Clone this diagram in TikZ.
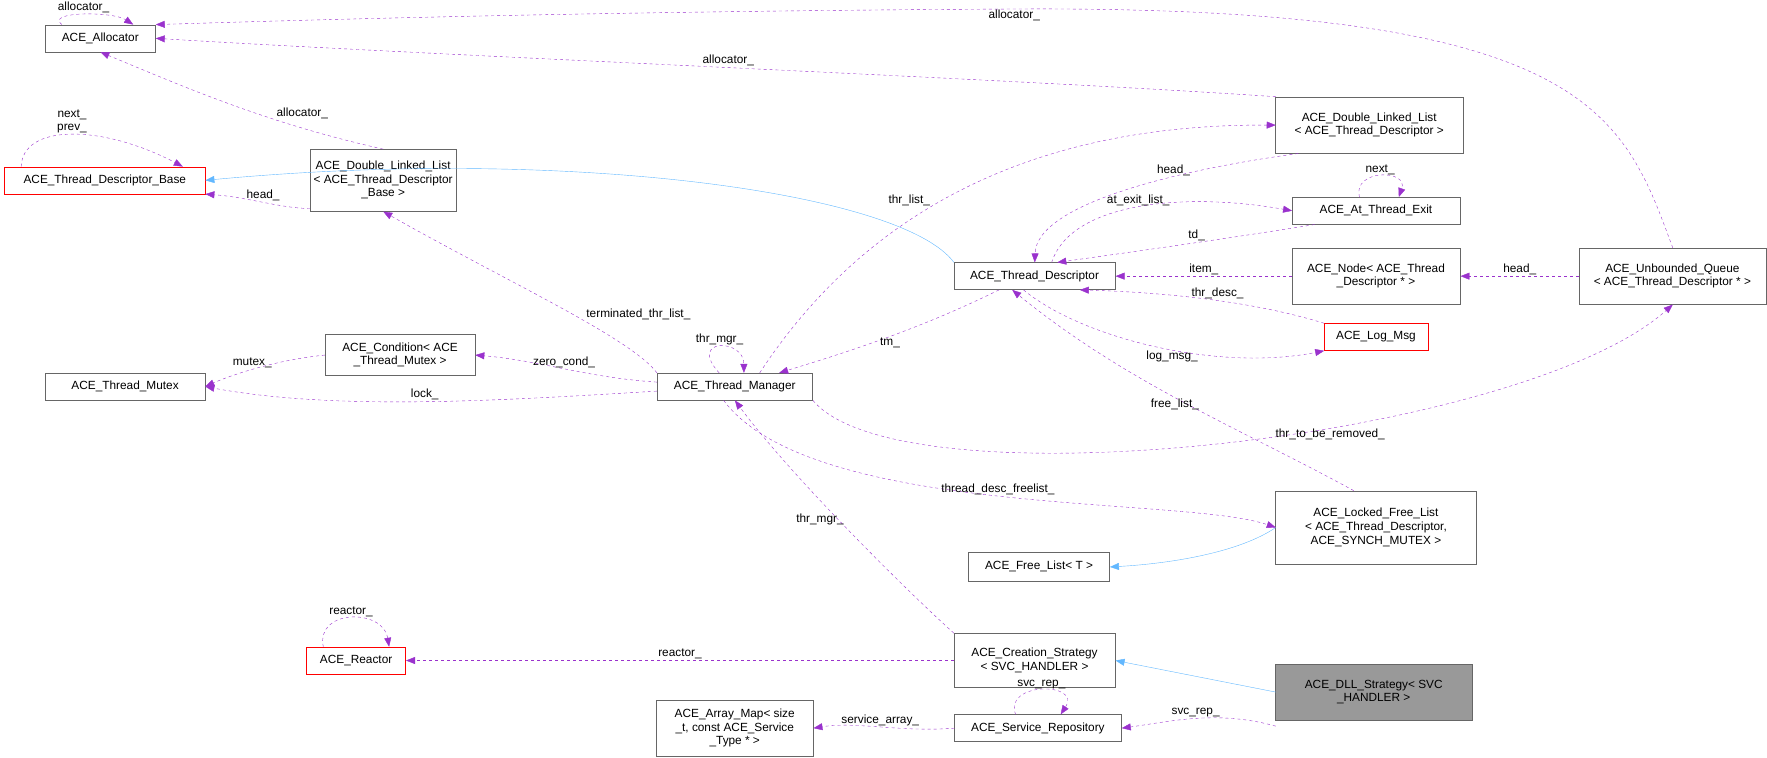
\documentclass[tikz,border=0pt]{standalone}
\usepackage{fontspec}
\setmainfont{Liberation Sans}
\usetikzlibrary{arrows.meta}
\definecolor{edgep}{HTML}{9A32CD}
\definecolor{edgeb}{HTML}{63B8FF}
\begin{document}
\begin{tikzpicture}[x=1pt,y=-1pt,scale=1.127,transform shape,
  cls/.style={draw=black!60, fill=white, font=\fontsize{10.5}{12}\selectfont, align=center, inner sep=3pt},
  redcls/.style={cls, draw=red},
  use/.style={draw=edgep, dashed, -{Triangle[length=9pt,width=7pt]}},
  inh/.style={draw=edgeb, -{Triangle[length=9pt,width=7pt]}},
  lbl/.style={font=\fontsize{10.5}{12}\selectfont, inner sep=1pt}]
\useasboundingbox (0,0) rectangle (1568,672);
\node[cls, minimum width=98pt, minimum height=24pt] (alloc) at (89,34){ACE\_Allocator};
\node[redcls, minimum width=178pt, minimum height=24pt] (tdbase) at (93,160){ACE\_Thread\_Descriptor\_Base};
\node[cls, minimum width=125pt, minimum height=55pt] (dlltdb) at (340,160){ACE\_Double\_Linked\_List\\\textless{} ACE\_Thread\_Descriptor\\\_Base \textgreater};
\node[cls, minimum width=142pt, minimum height=24pt] (mutex) at (111,343){ACE\_Thread\_Mutex};
\node[cls, minimum width=133pt, minimum height=36pt] (cond) at (355,315){ACE\_Condition\textless{} ACE\\\_Thread\_Mutex \textgreater};
\node[cls, minimum width=138pt, minimum height=24pt] (tm) at (652,343){ACE\_Thread\_Manager};
\node[cls, minimum width=143pt, minimum height=24pt] (td) at (918,245){ACE\_Thread\_Descriptor};
\node[cls, minimum width=166pt, minimum height=50pt] (dlltd) at (1215,111){ACE\_Double\_Linked\_List\\\textless{} ACE\_Thread\_Descriptor \textgreater};
\node[cls, minimum width=149pt, minimum height=24pt] (atexit) at (1221,187){ACE\_At\_Thread\_Exit};
\node[cls, minimum width=149pt, minimum height=50pt] (tdnode) at (1221,245){ACE\_Node\textless{} ACE\_Thread\\\_Descriptor * \textgreater};
\node[cls, minimum width=166pt, minimum height=50pt] (queue) at (1484,245){ACE\_Unbounded\_Queue\\\textless{} ACE\_Thread\_Descriptor * \textgreater};
\node[redcls, minimum width=92pt, minimum height=24pt] (logmsg) at (1221,299){ACE\_Log\_Msg};
\node[cls, minimum width=178pt, minimum height=65pt] (lfl) at (1221,468){ACE\_Locked\_Free\_List\\\textless{} ACE\_Thread\_Descriptor,\\ ACE\_SYNCH\_MUTEX \textgreater};
\node[cls, minimum width=125pt, minimum height=26pt] (fl) at (922,503){ACE\_Free\_List\textless{} T \textgreater};
\node[redcls, minimum width=88pt, minimum height=24pt] (reactor) at (316,586){ACE\_Reactor};
\node[cls, minimum width=143pt, minimum height=48pt] (cs) at (918,586){ACE\_Creation\_Strategy\\\textless{} SVC\_HANDLER \textgreater};
\node[cls, fill=black!40, minimum width=174pt, minimum height=50pt] (dlls) at (1219,614){ACE\_DLL\_Strategy\textless{} SVC\\\_HANDLER \textgreater};
\node[cls, minimum width=148pt, minimum height=24pt] (repo) at (921,646){ACE\_Service\_Repository};
\node[cls, minimum width=139pt, minimum height=50pt] (amap) at (652,646){ACE\_Array\_Map\textless{} size\\\_t, const ACE\_Service\\\_Type * \textgreater};
% inheritance
\draw[inh] (td.north west) .. controls (800,170) and (500,130) .. (tdbase.east);
\draw[inh] (lfl.west) .. controls (1100,490) and (1040,500) .. (fl.east);
\draw[inh] (dlls.west) -- (cs.east);
% usage
\draw[use] (alloc.north west) ++(15,0) .. controls (40,10) and (100,10) .. node[lbl, above]{allocator\_} ([xshift=-20pt]alloc.north east);
\draw[use] (dlltdb.north) .. controls (240,110) and (170,80) .. node[lbl, pos=0.35, above right]{allocator\_} (alloc.south);
\draw[use] (dlltd.north west) .. controls (900,70) and (400,50) .. node[lbl, above]{allocator\_} (alloc.east);
\draw[use] (queue.north) .. controls (1440,100) and (1410,5) .. (900,8) .. controls (500,10) and (200,20) .. node[lbl, pos=0, below]{allocator\_} (alloc.north east);
\draw[use] (tdbase.north west) ++(15,0) .. controls (20,110) and (90,110) .. node[lbl, above, align=center]{next\_\\prev\_} ([xshift=-20pt]tdbase.north east);
\draw[use] (dlltdb.west) ++(0,25) .. controls (250,185) and (220,175) .. node[lbl, above]{head\_} (tdbase.south east);
\draw[use] (tm.north west) .. controls (560,300) and (450,250) .. node[lbl, above right, pos=0.4]{terminated\_thr\_list\_} (dlltdb.south);
\draw[use] (cond.west) .. controls (240,320) and (200,335) .. node[lbl, above]{mutex\_} (mutex.east);
\draw[use] (tm.west) ++(0,4) .. controls (450,355) and (300,365) .. node[lbl, above]{lock\_} (mutex.east);
\draw[use] (tm.west) ++(0,-4) .. controls (520,335) and (480,320) .. node[lbl, above]{zero\_cond\_} (cond.east);
\draw[use] (tm.north) ++(-14,0) .. controls (610,300) and (660,300) .. node[lbl, above]{thr\_mgr\_} ([xshift=8pt]tm.north);
\draw[use] (tm.north) ++(22,0) .. controls (760,200) and (900,110) .. node[lbl, pos=0.45, above left]{thr\_list\_} (dlltd.west);
\draw[use] (td.south west) ++(40,0) .. controls (820,290) and (760,310) .. node[lbl, pos=0.5, below]{tm\_} ([xshift=-30pt]tm.north east);
\draw[use] (dlltd.south west) ++(20,0) .. controls (1050,150) and (920,180) .. node[lbl, pos=0.35, above]{head\_} (td.north);
\draw[use] (td.north) ++(15,0) .. controls (950,180) and (1050,170) .. node[lbl, above]{at\_exit\_list\_} (atexit.west);
\draw[use] (atexit.south west) ++(20,0) .. controls (1100,210) and (1030,220) .. node[lbl, above]{td\_} ([xshift=20pt]td.north);
\draw[use] (atexit.north) ++(-15,0) .. controls (1200,150) and (1250,150) .. node[lbl, above]{next\_} ([xshift=20pt]atexit.north);
\draw[use] (tdnode.west) -- node[lbl, above]{item\_} (td.east);
\draw[use] (queue.west) -- node[lbl, above]{head\_} (tdnode.east);
\draw[use] (logmsg.north west) .. controls (1120,270) and (1050,260) .. node[lbl, above]{thr\_desc\_} ([xshift=40pt]td.south);
\draw[use] (td.south) ++(-10,0) .. controls (960,300) and (1080,330) .. node[lbl, pos=0.55, below]{log\_msg\_} (logmsg.south west);
\draw[use] (lfl.north) ++(-20,0) .. controls (1100,380) and (1000,340) .. node[lbl, pos=0.45, above left]{free\_list\_} ([xshift=-20pt]td.south);
\draw[use] (tm.south east) .. controls (800,450) and (1350,390) .. node[lbl, pos=0.6, below]{thr\_to\_be\_removed\_} (queue.south);
\draw[use] (tm.south) ++(-10,0) .. controls (720,460) and (1050,440) .. node[lbl, pos=0.5, above]{thread\_desc\_freelist\_} (lfl.west);
\draw[use] (cs.north west) .. controls (800,520) and (700,420) .. node[lbl, pos=0.5, above left]{thr\_mgr\_} (tm.south);
\draw[use] (reactor.north west) ++(15,0) .. controls (280,540) and (340,540) .. node[lbl, above]{reactor\_} ([xshift=-15pt]reactor.north east);
\draw[use] (cs.west) -- node[lbl, above]{reactor\_} (reactor.east);
\draw[use] (dlls.south west) ++(0,5) .. controls (1080,630) and (1040,640) .. node[lbl, above]{svc\_rep\_} (repo.east);
\draw[use] (repo.north) ++(-20,0) .. controls (890,605) and (960,605) .. node[lbl, above]{svc\_rep\_} ([xshift=20pt]repo.north);
\draw[use] (repo.west) .. controls (800,650) and (760,640) .. node[lbl, above]{service\_array\_} (amap.east);
\end{tikzpicture}
\end{document}
